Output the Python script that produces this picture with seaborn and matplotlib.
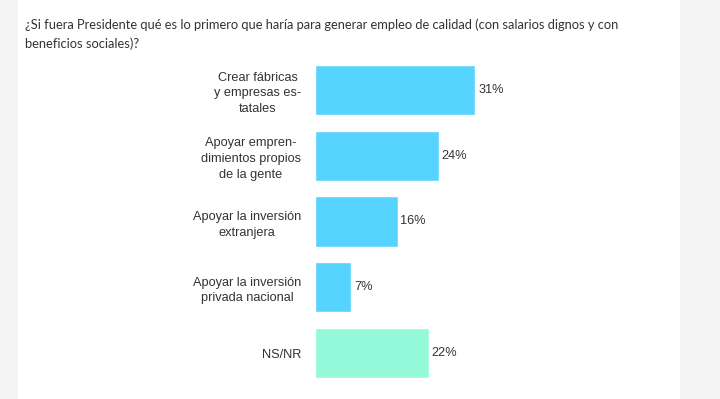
import matplotlib
matplotlib.use("Agg")
import matplotlib.pyplot as plt
import pandas as pd
import seaborn as sns
from matplotlib.patches import Rectangle

question = ("¿Si fuera Presidente qué es lo primero que haría para generar empleo de calidad "
            "(con salarios dignos y con\nbeneficios sociales)?")
categories = [
    "Crear fábricas\ny empresas es-\ntatales",
    "Apoyar empren-\ndimientos propios\nde la gente",
    "Apoyar la inversión\nextranjera",
    "Apoyar la inversión\nprivada nacional",
    "NS/NR",
]
values = [31, 24, 16, 7, 22]
groups = ["opcion", "opcion", "opcion", "opcion", "nsnr"]
palette = {"opcion": "#56d3fe", "nsnr": "#93f9d8"}

df = pd.DataFrame({"categoria": categories, "valor": values, "grupo": groups})

sns.set_theme(style="white")
plt.rcParams["font.family"] = ["Liberation Sans", "DejaVu Sans"]

fig = plt.figure(figsize=(7.2, 3.99), dpi=100)
fig.patch.set_facecolor("#f3f3f3")
# white card
fig.add_artist(Rectangle((18 / 720, 0), (680 - 18) / 720, 1, transform=fig.transFigure,
                         facecolor="white", edgecolor="none", zorder=0))

fig.text(25 / 720, 1 - 18 / 399, question, ha="left", va="top", fontsize=9.3,
         color="#333333", family=["Lato", "DejaVu Sans"], linespacing=1.65)

ax = fig.add_axes([315 / 720, 1 - 386 / 399, 365 / 720, 329 / 399])
ax.set_facecolor("none")
sns.barplot(data=df, y="categoria", x="valor", hue="grupo", palette=palette,
            dodge=False, legend=False, width=0.76, saturation=1, ax=ax)
ax.set_xlim(0, 365 / 5.17)
ax.set_ylim(4.5, -0.5)
for cont in ax.containers:
    ax.bar_label(cont, labels=[f"{v:.0f}%" for v in cont.datavalues], padding=2,
                 fontsize=9.2, color="#333333")
ax.set_xlabel("")
ax.set_ylabel("")
ax.set_xticks([])
ax.tick_params(axis="y", length=0, pad=10, labelsize=9.2, labelcolor="#333333")
for lbl in ax.get_yticklabels():
    lbl.set_multialignment("center")
    lbl.set_linespacing(1.4)
sns.despine(ax=ax, left=True, bottom=True)

fig.savefig("out.png", dpi=100, facecolor=fig.get_facecolor())
